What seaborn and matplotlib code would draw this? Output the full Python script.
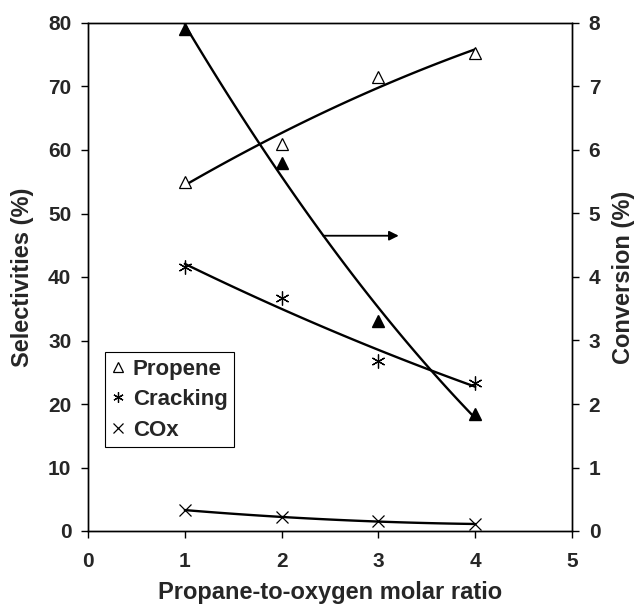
import numpy as np
import pandas as pd
import matplotlib
matplotlib.use("Agg")
import matplotlib.pyplot as plt
import seaborn as sns

ratio = [1, 2, 3, 4]
propene = [55.0, 61.0, 71.5, 75.3]
cracking = [41.5, 36.7, 26.8, 23.3]
cox = [3.3, 2.2, 1.5, 1.1]
conversion = [7.9, 5.8, 3.3, 1.85]
arrow_y = 46.5
arrow_x = [2.43, 3.21]

sns.set_style("ticks")
plt.rcParams['font.family'] = ['Liberation Sans', 'DejaVu Sans']
plt.rcParams['font.weight'] = 'bold'

fig = plt.figure(figsize=(6.36, 6.16), dpi=100)
ax = fig.add_axes([88/636, 1-531/616, 484/636, 508/616])
ax2 = ax.twinx()

xs = np.linspace(1, 4, 100)
def trend(y):
    c = np.polyfit(ratio, y, 2)
    return np.polyval(c, xs)

for ser in [propene, cracking, cox]:
    sns.lineplot(x=xs, y=trend(ser), ax=ax, color='black', lw=1.7, zorder=2)
sns.lineplot(x=xs, y=trend(conversion), ax=ax2, color='black', lw=1.7, zorder=2)

star = (6, 2, 0)
ax.plot(ratio, propene, ls='none', marker='^', ms=9, mfc='white', mec='black', mew=0.9, label='Propene', zorder=3)
ax.plot(ratio, cracking, ls='none', marker=star, ms=10, mfc='none', mec='black', mew=0.9, label='Cracking', zorder=3)
ax.plot(ratio, cox, ls='none', marker='x', ms=9, mec='black', mew=0.9, label='COx', zorder=3)
ax2.plot(ratio, conversion, ls='none', marker='^', ms=9, mfc='black', mec='black', label='_conv', zorder=3)

ax.annotate('', xy=(arrow_x[1], arrow_y), xytext=(arrow_x[0], arrow_y),
            arrowprops=dict(arrowstyle='-|>', color='black', lw=1.3, mutation_scale=14, shrinkA=0, shrinkB=0))

ax.set_xlim(0, 5)
ax.set_ylim(0, 80)
ax2.set_ylim(0, 8)
ax.set_xticks(range(0, 6))
ax.set_yticks(range(0, 81, 10))
ax2.set_yticks(range(0, 9))

for a in (ax, ax2):
    for s in a.spines.values():
        s.set_visible(True)
        s.set_color('black')
        s.set_linewidth(1.0)
    a.tick_params(direction='out', length=5, width=1, labelsize=15, color='black', pad=7)
    for lab in a.get_xticklabels() + a.get_yticklabels():
        lab.set_fontweight('bold')
ax.tick_params(axis='x', pad=10)

ax.set_xlabel('Propane-to-oxygen molar ratio', fontsize=17, fontweight='bold', labelpad=7)
ax.set_ylabel('Selectivities (%)', fontsize=17, fontweight='bold', labelpad=10)
ax2.set_ylabel('Conversion (%)', fontsize=17, fontweight='bold', rotation=90, labelpad=8)

leg = ax.legend(loc='upper left', bbox_to_anchor=(0.035, 0.352), borderaxespad=0,
                fancybox=False, edgecolor='black', framealpha=1, handlelength=0.6,
                handletextpad=0.35, markerscale=0.75, labelspacing=0.42,
                prop={'weight': 'bold', 'size': 16}, borderpad=0.3)
leg.get_frame().set_linewidth(0.8)

fig.savefig('out.png', dpi=100)
